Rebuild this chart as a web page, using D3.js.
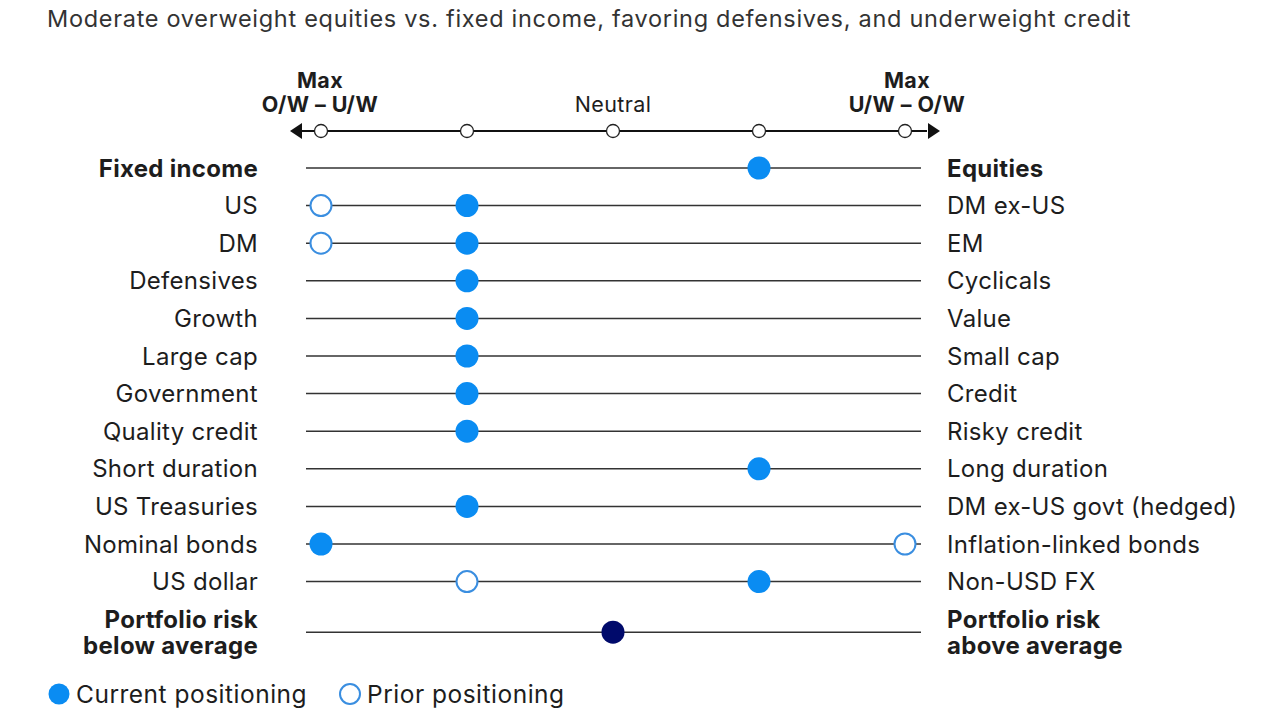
<!DOCTYPE html>
<html>
<head>
<meta charset="utf-8">
<script src="https://cdn.jsdelivr.net/npm/d3@7"></script>
<style>
  body { margin: 0; background: #fff; }
  text { font-family: Inter, "Noto Sans", sans-serif; fill: #1d1d1d; }
</style>
</head>
<body>
<div id="chart"></div>
<script>
// Data
const leftLabels = ["Fixed income", "US", "DM", "Defensives", "Growth", "Large cap", "Government",
  "Quality credit", "Short duration", "US Treasuries", "Nominal bonds", "US dollar", "Portfolio risk\nbelow average"];
const rightLabels = ["Equities", "DM ex-US", "EM", "Cyclicals", "Value", "Small cap", "Credit",
  "Risky credit", "Long duration", "DM ex-US govt (hedged)", "Inflation-linked bonds", "Non-USD FX", "Portfolio risk\nabove average"];
const boldRows = [0, 12];
// 1 = max left, 3 = neutral, 5 = max right
const current = [4, 2, 2, 2, 2, 2, 2, 2, 4, 2, 1, 4, 3];
const prior   = [null, 1, 1, null, null, null, null, null, null, null, 5, 2, null];
const scaleTicks = [1, 2, 3, 4, 5];

const width = 1280, height = 720;
const blue = "#0a8cf2", navy = "#000a6b", priorStroke = "#3a8ee0";

const svg = d3.select("#chart").append("svg")
    .attr("width", width).attr("height", height);

const x = d3.scaleLinear().domain([1, 5]).range([321, 905]);
const rowStep = 37.6;
const y = i => 168 + i * rowStep + (i === 12 ? 13 : 0);

// title
svg.append("text")
    .attr("x", 47).attr("y", 27)
    .style("font-size", "23.5px")
    .style("letter-spacing", "0.7px")
    .style("fill", "#333")
    .text("Moderate overweight equities vs. fixed income, favoring defensives, and underweight credit");

// top scale
const axisY = 131;
svg.append("line")
    .attr("x1", x(1) - 22).attr("x2", x(5) + 22)
    .attr("y1", axisY).attr("y2", axisY)
    .attr("stroke", "#111").attr("stroke-width", 2);
svg.append("path")
    .attr("d", `M${x(1) - 31},${axisY} l12,-8 v16 z`)
    .attr("fill", "#111");
svg.append("path")
    .attr("d", `M${x(5) + 35},${axisY} l-12,-8 v16 z`)
    .attr("fill", "#111");
svg.selectAll("circle.tick")
    .data(scaleTicks)
    .enter().append("circle")
    .attr("class", "tick")
    .attr("cx", d => x(d)).attr("cy", axisY).attr("r", 6.5)
    .attr("fill", "#fff").attr("stroke", "#222").attr("stroke-width", 1.3);

const headers = [
  { v: 1, lines: ["Max", "O/W \u2013 U/W"], bold: true },
  { v: 3, lines: ["Neutral"], bold: false },
  { v: 5, lines: ["Max", "U/W \u2013 O/W"], bold: true }
];
headers.forEach(h => {
  const t = svg.append("text")
      .attr("x", x(h.v) - (h.v === 1 ? 1 : (h.v === 5 ? -2 : 0)))
      .attr("y", h.lines.length === 2 ? 88 : 112)
      .attr("text-anchor", "middle")
      .style("font-size", "21.5px")
      .style("letter-spacing", "0.4px")
      .style("font-weight", h.bold ? 700 : 400);
  h.lines.forEach((l, i) => t.append("tspan").attr("x", t.attr("x")).attr("dy", i ? 24 : 0).text(l));
});

// rows
const rows = svg.selectAll("g.row")
    .data(leftLabels.map((l, i) => ({ i, left: l, right: rightLabels[i], cur: current[i], pri: prior[i] })))
    .enter().append("g").attr("class", "row");

rows.append("line")
    .attr("x1", x(1) - 15).attr("x2", x(5) + 16)
    .attr("y1", d => y(d.i)).attr("y2", d => y(d.i))
    .attr("stroke", "#333").attr("stroke-width", 1.5);

function addLabel(sel, side) {
  sel.append("text")
      .attr("text-anchor", side === "left" ? "end" : "start")
      .style("font-size", "24px")
      .style("letter-spacing", "0.3px")
      .style("font-weight", d => boldRows.includes(d.i) ? 700 : 400)
      .each(function(d) {
        const parts = d[side].split("\n");
        const t = d3.select(this);
        const xx = side === "left" ? 258 : 947;
        parts.forEach((p, k) => {
          t.append("tspan")
              .attr("x", xx)
              .attr("y", y(d.i) + 8.5 + (parts.length > 1 ? (k - 0.5) * 26 : 0))
              .text(p);
        });
      });
}
addLabel(rows, "left");
addLabel(rows, "right");

rows.filter(d => d.pri !== null).append("circle")
    .attr("cx", d => x(d.pri)).attr("cy", d => y(d.i)).attr("r", 10.5)
    .attr("fill", "#fff").attr("stroke", priorStroke).attr("stroke-width", 2);

rows.append("circle")
    .attr("cx", d => x(d.cur)).attr("cy", d => y(d.i)).attr("r", 11.5)
    .attr("fill", d => d.i === 12 ? navy : blue);

// legend
const legend = svg.append("g").attr("transform", "translate(0,694)");
legend.append("circle").attr("cx", 59).attr("cy", 0).attr("r", 10.5).attr("fill", blue);
legend.append("text").attr("x", 76).attr("y", 8.5)
    .style("font-size", "24.5px").style("letter-spacing", "0.5px").text("Current positioning");
legend.append("circle").attr("cx", 350).attr("cy", 0).attr("r", 10).attr("fill", "#fff")
    .attr("stroke", priorStroke).attr("stroke-width", 2);
legend.append("text").attr("x", 367).attr("y", 8.5)
    .style("font-size", "24.5px").style("letter-spacing", "0.5px").text("Prior positioning");
</script>
</body>
</html>
